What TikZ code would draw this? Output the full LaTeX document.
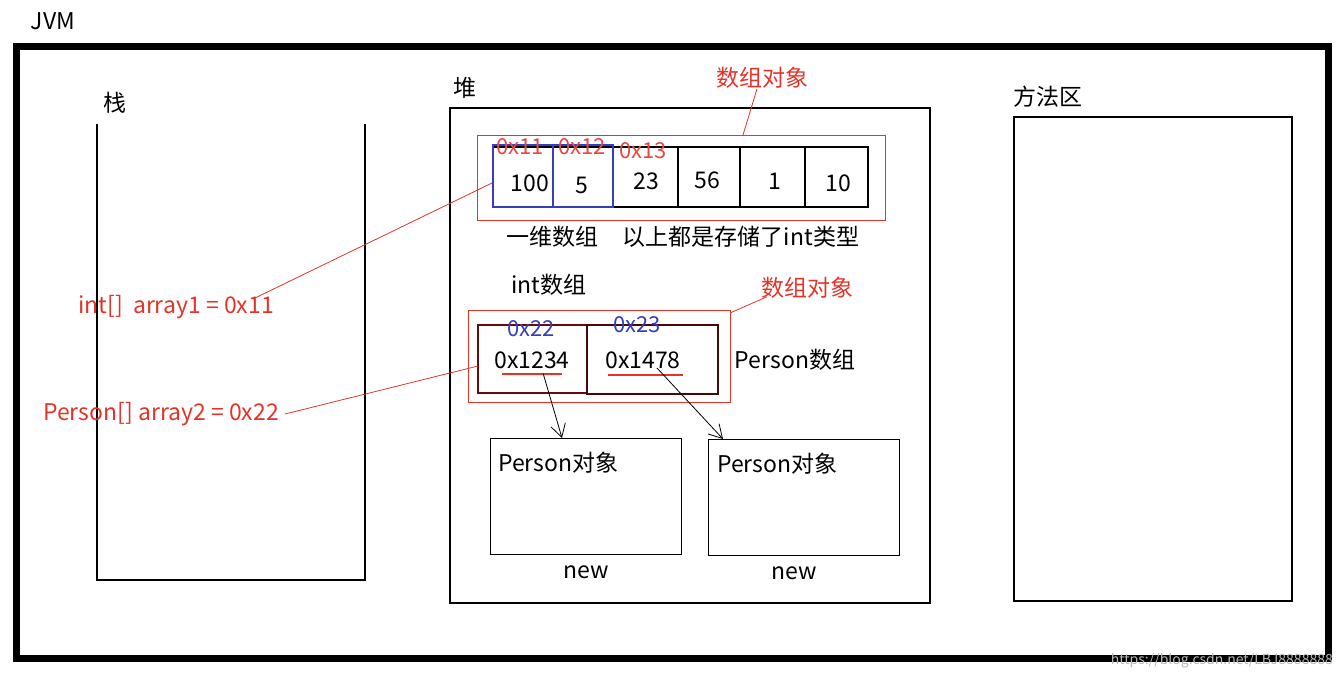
\documentclass[tikz,border=0pt]{standalone}
\usepackage{fontspec}
\setmainfont{Noto Sans CJK SC}
\usepackage{xcolor}
\usetikzlibrary{arrows.meta,positioning}
\definecolor{jred}{RGB}{228,52,42}
\definecolor{jblue}{RGB}{52,62,190}
\definecolor{jdark}{RGB}{100,12,12}
\begin{document}
\begin{tikzpicture}[x=1pt,y=-1pt,
  txt/.style={font=\fontsize{23}{26}\selectfont,inner sep=0pt},
  red txt/.style={txt,text=jred},
  addr/.style={font=\fontsize{22}{24}\selectfont,inner sep=0pt},
  box/.style={draw,line width=1.3pt},
  redbox/.style={draw=jred,line width=1pt},
  link/.style={jred,line width=0.8pt},
  ptr/.style={-{Straight Barb[length=13pt,width=15pt]},line width=0.8pt}]
\useasboundingbox (0,0) rectangle (1343,680);
\draw[line width=6.5pt] (16.5,46.5) rectangle (1328.5,658.5);
\node[txt] (jvm) at (53,21) {JVM};
\node[text=black!28,font=\fontsize{14}{16}\selectfont,inner sep=0pt,anchor=east] (wm) at (1333,661) {https://blog.csdn.net/LBJ8888888};
% stack
\node[txt] (zhan) at (115,103) {栈};
\draw[box] (97,124) |- (365,580) -- (365,124);
\node[red txt,anchor=west] (arr1) at (78,307) {int[]\ \ array1\ = 0x11};
\node[red txt,anchor=west] (arr2) at (43,414) {Person[] array2\ = 0x22};
% heap
\node[txt] (dui) at (465,88) {堆};
\draw[box] (450,108) rectangle (930,603);
% method area
\node[txt] (fangfa) at (1048,97) {方法区};
\draw[box] (1014,117) rectangle (1292,601);
% int array
\draw[redbox] (477,135) rectangle (885,220);
\draw[box] (493,147) rectangle (868,207);
\foreach \x in {613,678,740,805} \draw[box] (\x,147) -- (\x,207);
\draw[jblue,line width=1.3pt] (493,145) rectangle (553,207) (553,145) rectangle (613,207);
\foreach \v/\x/\y [count=\i] in {100/530/183,5/582/185,23/646/181,56/707/180,1/775/181,10/838/183}
  \node[txt] (val\i) at (\x,\y) {\v};
\foreach \a/\x/\y in {11/520/147,12/582/147,13/643/151}
  \node[addr,text=jred!90] (ad\a) at (\x,\y) {0x\a};
\node[txt] (yiwei) at (552,237) {一维数组};
\node[txt] (cunchu) at (741,237) {以上都是存储了int类型};
\node[red txt] (obj1) at (762,78) {数组对象};
\coordinate (o1) at (743,135);
\draw[link] (obj1.south) ++(-5,0) -- (o1);
\coordinate (c1) at (492,183);
\coordinate (a1) at (253,299);
\draw[link] (a1) -- (c1);
% Person array
\node[txt] (intsz) at (549,285) {int数组};
\draw[redbox] (468,310) rectangle (730,402);
\draw[jdark,line width=1.3pt] (478,325) rectangle (587,393);
\draw[jdark!70!black,line width=2pt] (587,325) rectangle (718,394);
\node[addr,text=jblue] (ad22) at (531,329) {0x22};
\node[addr,text=jblue] (ad23) at (637,325) {0x23};
\node[txt] (ref1) at (532,360) {0x1234};
\node[txt] (ref2) at (643,360) {0x1478};
\draw[jred,line width=1.3pt] (502,374) -- (562,374) (608,375) -- (683,375);
\node[txt] (persz) at (795,360) {Person数组};
\node[red txt] (obj2) at (807,288) {数组对象};
\coordinate (o2) at (730,313);
\draw[link] (obj2.south west) ++(6,-2) -- (o2);
\coordinate (c2) at (478,366);
\draw[link] (arr2.east) ++(6,0) -- (c2);
% Person objects
\node[box,minimum width=191pt,minimum height=116pt,anchor=north west] (pobj1) at (490,438) {};
\node[box,minimum width=191pt,minimum height=116pt,anchor=north west] (pobj2) at (708,439) {};
\node[txt,anchor=west] (pname1) at (498,463) {Person对象};
\node[txt,anchor=west] (pname2) at (717,464) {Person对象};
\node[txt] (new1) at (586,572) {new};
\node[txt] (new2) at (794,573) {new};
\coordinate (s1) at (543,373);
\coordinate (t1) at (562,438);
\coordinate (s2) at (657,368);
\coordinate (t2) at (723,439);
\draw[ptr] (s1) -- (t1);
\draw[ptr] (s2) -- (t2);
\end{tikzpicture}
\end{document}
